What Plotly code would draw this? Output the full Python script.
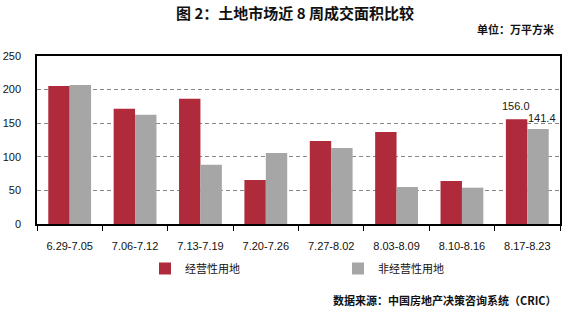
import plotly.graph_objects as go

categories = ["6.29-7.05", "7.06-7.12", "7.13-7.19", "7.20-7.26",
              "7.27-8.02", "8.03-8.09", "8.10-8.16", "8.17-8.23"]
commercial = [205.5, 171.5, 186.5, 65.5, 123.5, 137.0, 64.0, 156.0]
noncommercial = [207.0, 162.5, 88.0, 105.5, 113.0, 55.0, 54.0, 141.4]
series_names = ["经营性用地", "非经营性用地"]
y_ticks = [0, 50, 100, 150, 200, 250]

RED = "#AF2A3B"
GRAY = "#A6A6A6"
CJK = "Noto Sans CJK SC"
NUM = "Liberation Sans"

W, H = 570, 309
L, R, T, B = 37, 10, 56, 85
PW, PH = W - L - R, H - T - B


def px_x(x):
    return (x - L) / PW


def px_y(y):
    return (H - B - y) / PH


fig = go.Figure()
fig.add_trace(go.Bar(x=categories, y=commercial, name=series_names[0],
                     marker=dict(color=RED, line=dict(width=0))))
fig.add_trace(go.Bar(x=categories, y=noncommercial, name=series_names[1],
                     marker=dict(color=GRAY, line=dict(width=0))))

# data labels for last group
fig.add_annotation(x=categories[-1], y=commercial[-1], text=f"{commercial[-1]:.1f}",
                   showarrow=False, xshift=-11, yshift=5, yanchor="bottom",
                   font=dict(family=NUM, size=11, color="#1a1a1a"))
fig.add_annotation(x=categories[-1], y=noncommercial[-1], text=f"{noncommercial[-1]:.1f}",
                   showarrow=False, xshift=15, yshift=3, yanchor="bottom",
                   font=dict(family=NUM, size=11, color="#1a1a1a"))

# unit and source
fig.add_annotation(text="<b>单位：万平方米</b>", xref="paper", yref="paper",
                   x=px_x(556), y=px_y(29), xanchor="right", yanchor="middle", showarrow=False,
                   font=dict(family=CJK, size=11, color="#111"))
fig.add_annotation(text="<b>数据来源：中国房地产决策咨询系统（CRIC）</b>", xref="paper", yref="paper",
                   x=px_x(559), y=px_y(300), xanchor="right", yanchor="middle", showarrow=False,
                   font=dict(family=CJK, size=11, color="#111"))

fig.update_layout(
    width=W, height=H,
    margin=dict(l=L, r=R, t=T, b=B, autoexpand=False),
    paper_bgcolor="white", plot_bgcolor="white",
    barmode="group", bargap=0.345, bargroupgap=0,
    title=dict(text="<b>图 2：土地市场近 8 周成交面积比较</b>", x=295/W, xanchor="center",
               y=1 - 13.5/H, yanchor="middle",
               font=dict(family=CJK, size=15, color="#111")),
    showlegend=True,
    legend=dict(orientation="h", x=px_x(145), xanchor="left", y=px_y(254), yanchor="top",
                entrywidth=148, entrywidthmode="pixels",
                font=dict(family=CJK, size=11, color="#111"),
                bgcolor="rgba(0,0,0,0)"),
    xaxis=dict(type="category", showline=True, linecolor="black", linewidth=1.5,
               mirror=True, ticks="outside", tickson="boundaries", ticklen=5,
               tickcolor="black", tickwidth=1, ticklabelstandoff=11,
               showgrid=False, tickfont=dict(family=NUM, size=11, color="#111")),
    yaxis=dict(range=[0, 250], tickvals=y_ticks, showline=True, linecolor="black",
               linewidth=1.5, mirror=True, ticks="", ticklabelstandoff=12,
               showgrid=True, gridcolor="#888888", griddash="4px,3px", gridwidth=1,
               zeroline=False, tickfont=dict(family=NUM, size=11, color="#111")),
)

fig.write_html("out.html")
